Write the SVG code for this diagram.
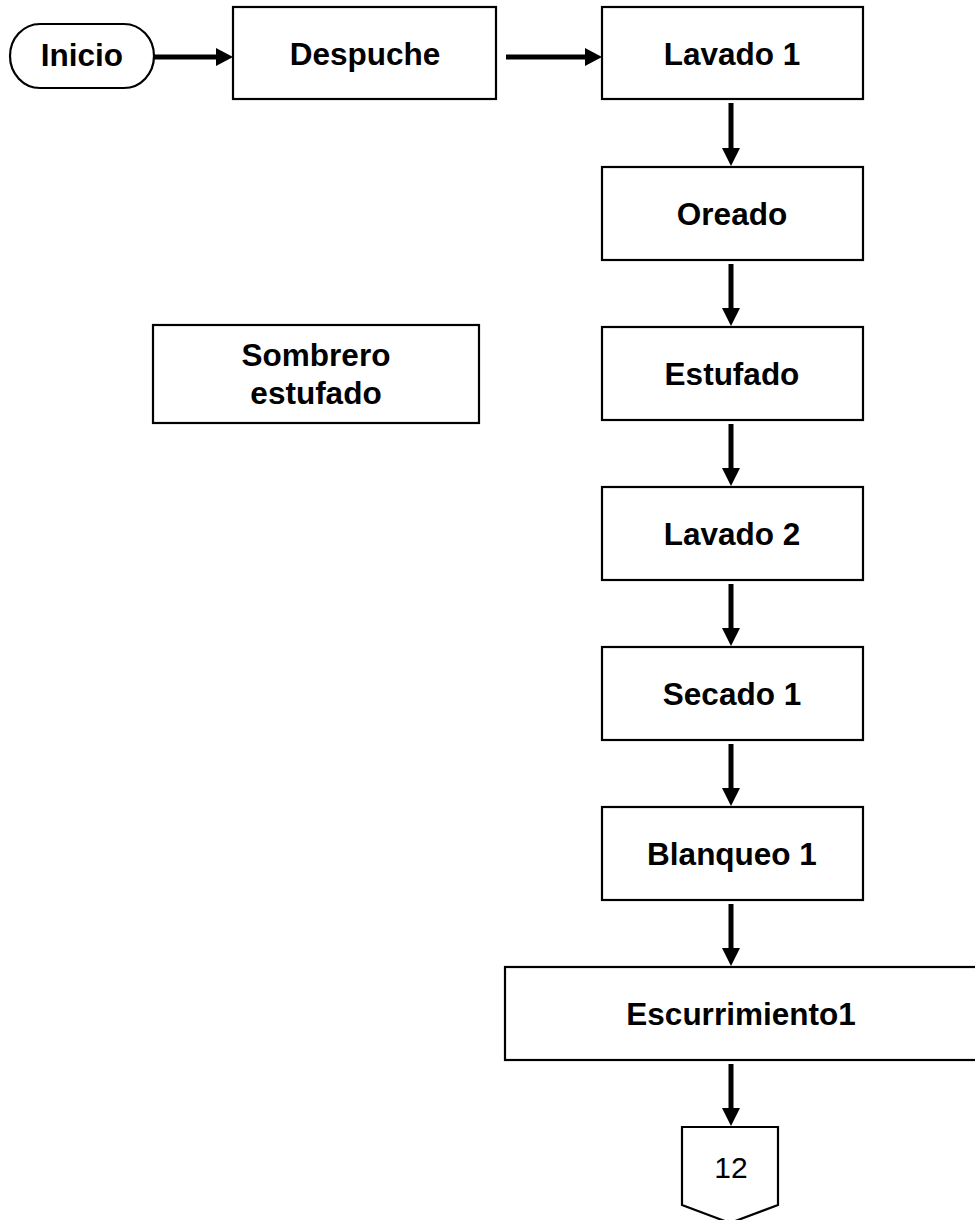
<svg xmlns="http://www.w3.org/2000/svg" width="975" height="1220" viewBox="0 0 975 1220">
<style>
.box{fill:#fff;stroke:#000;stroke-width:2.2}
.t{font-family:"Liberation Sans",Arial,sans-serif;font-weight:bold;font-size:31.5px;text-anchor:middle;fill:#000}
.n{font-family:"Liberation Sans",Arial,sans-serif;font-size:30px;text-anchor:middle;fill:#000}
.c{stroke:#000;stroke-width:5;fill:none}
.h{fill:#000}
</style>
<rect width="975" height="1220" fill="#fff"/>
<g id="connectors">
<line class="c" x1="154" y1="57" x2="218" y2="57"/>
<path class="h" d="M216,48 L233,57 L216,66 Z"/>
<line class="c" x1="506" y1="57" x2="587" y2="57"/>
<path class="h" d="M585,48 L602,57 L585,66 Z"/>
<line class="c" x1="731" y1="103" x2="731" y2="150"/>
<path class="h" d="M722,148 L731,166 L740,148 Z"/>
<line class="c" x1="731" y1="264" x2="731" y2="310"/>
<path class="h" d="M722,308 L731,326 L740,308 Z"/>
<line class="c" x1="731" y1="424" x2="731" y2="470"/>
<path class="h" d="M722,468 L731,486 L740,468 Z"/>
<line class="c" x1="731" y1="584" x2="731" y2="630"/>
<path class="h" d="M722,628 L731,646 L740,628 Z"/>
<line class="c" x1="731" y1="744" x2="731" y2="790"/>
<path class="h" d="M722,788 L731,806 L740,788 Z"/>
<line class="c" x1="731" y1="904" x2="731" y2="950"/>
<path class="h" d="M722,948 L731,966 L740,948 Z"/>
<line class="c" x1="731" y1="1064" x2="731" y2="1110"/>
<path class="h" d="M722,1108 L731,1126 L740,1108 Z"/>
</g>
<g id="inicio">
<rect class="box" x="10" y="24" width="144" height="64" rx="30" ry="32"/>
<text class="t" x="82" y="66">Inicio</text>
</g>
<g id="despuche">
<rect class="box" x="233" y="7" width="263" height="92"/>
<text class="t" x="365" y="65">Despuche</text>
</g>
<g id="lavado1">
<rect class="box" x="602" y="7" width="261" height="92"/>
<text class="t" x="732" y="65">Lavado 1</text>
</g>
<g id="oreado">
<rect class="box" x="602" y="167" width="261" height="93"/>
<text class="t" x="732" y="225">Oreado</text>
</g>
<g id="sombrero">
<rect class="box" x="153" y="325" width="326" height="98"/>
<text class="t" x="316" y="366">Sombrero</text>
<text class="t" x="316" y="404">estufado</text>
</g>
<g id="estufado">
<rect class="box" x="602" y="327" width="261" height="93"/>
<text class="t" x="732" y="385">Estufado</text>
</g>
<g id="lavado2">
<rect class="box" x="602" y="487" width="261" height="93"/>
<text class="t" x="732" y="545">Lavado 2</text>
</g>
<g id="secado1">
<rect class="box" x="602" y="647" width="261" height="93"/>
<text class="t" x="732" y="705">Secado 1</text>
</g>
<g id="blanqueo1">
<rect class="box" x="602" y="807" width="261" height="93"/>
<text class="t" x="732" y="865">Blanqueo 1</text>
</g>
<g id="escurrimiento1">
<rect class="box" x="505" y="967" width="500" height="93"/>
<text class="t" x="741" y="1025">Escurrimiento1</text>
</g>
<g id="conector12">
<path class="box" d="M682,1127 L778,1127 L778,1205 L730,1223 L682,1205 Z"/>
<text class="n" x="731" y="1178">12</text>
</g>
</svg>
